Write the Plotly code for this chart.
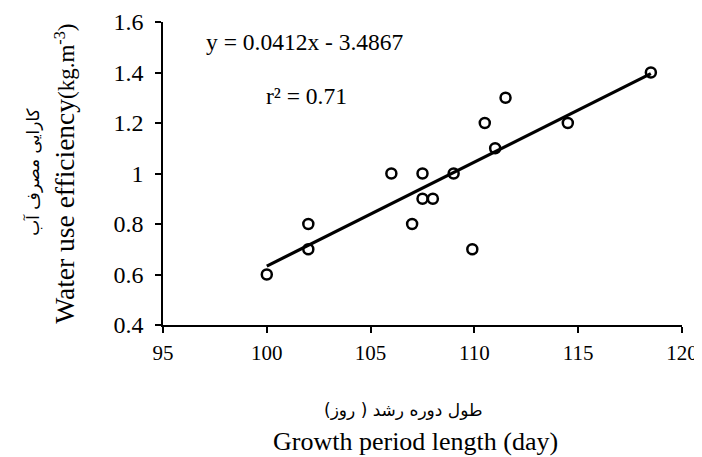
import plotly.graph_objects as go

# Data
growth_days = [100, 102, 102, 106, 107, 107.5, 107.5, 108, 109, 109.9, 110.5, 111, 111.5, 114.5, 118.5]
wue = [0.6, 0.7, 0.8, 1.0, 0.8, 0.9, 1.0, 0.9, 1.0, 0.7, 1.2, 1.1, 1.3, 1.2, 1.4]
slope = 0.0412
intercept = -3.4867
r2 = 0.71
x_ticks = [95, 100, 105, 110, 115, 120]
y_ticks = [0.4, 0.6, 0.8, 1.0, 1.2, 1.4, 1.6]
y_tick_text = ["0.4", "0.6", "0.8", "1", "1.2", "1.4", "1.6"]

trend_x = [min(growth_days), max(growth_days)]
trend_y = [slope * v + intercept for v in trend_x]

SERIF = "Liberation Serif, Times New Roman, serif"
ARABIC = "DejaVu Sans, Noto Sans, sans-serif"

# plot area in page pixels (page body has an 8px default margin)
PX0, PX1, PY0, PY1 = 162.5, 682.0, 21.7, 325.0


def px(x):
    return (x - PX0) / (PX1 - PX0)


def py(y):
    return (PY1 - y) / (PY1 - PY0)


fig = go.Figure()
fig.add_trace(go.Scatter(
    x=growth_days, y=wue, mode="markers",
    marker=dict(symbol="circle-open", size=10, color="black", line=dict(width=2.5, color="black")),
    showlegend=False, hoverinfo="x+y"))
fig.add_trace(go.Scatter(
    x=trend_x, y=trend_y, mode="lines",
    line=dict(color="black", width=3.2), showlegend=False, hoverinfo="skip"))

fig.update_layout(
    width=694, height=449,
    margin=dict(l=154.5, r=20, t=13.7, b=132),
    paper_bgcolor="white", plot_bgcolor="white",
    font=dict(family=SERIF, color="black", size=21),
    xaxis=dict(range=[95, 120], tickvals=x_ticks, showgrid=False, zeroline=False,
               automargin=False,
               showline=True, linecolor="black", linewidth=1.5,
               ticks="outside", ticklen=6, tickwidth=1.5, tickcolor="black",
               ticklabelstandoff=2, tickfont=dict(family=SERIF, size=21)),
    yaxis=dict(range=[0.4, 1.6], tickvals=y_ticks, ticktext=y_tick_text,
               showgrid=False, zeroline=False, automargin=False,
               showline=True, linecolor="black", linewidth=1.5,
               ticks="outside", ticklen=6, tickwidth=1.5, tickcolor="black",
               ticklabelstandoff=7, tickfont=dict(family=SERIF, size=24)),
    annotations=[
        dict(text="y = 0.0412x - 3.4867", x=px(305), y=py(42),
             xref="paper", yref="paper", showarrow=False, xanchor="center", yanchor="middle",
             font=dict(family=SERIF, size=23.5)),
        dict(text="r² = %.2f" % r2, x=px(306), y=py(96),
             xref="paper", yref="paper", showarrow=False, xanchor="center", yanchor="middle",
             font=dict(family=SERIF, size=23.5)),
        dict(text="طول دوره رشد ( روز)", x=px(403), y=py(410),
             xref="paper", yref="paper", showarrow=False, xanchor="center", yanchor="middle",
             font=dict(family=ARABIC, size=17)),
        dict(text="Growth period length (day)", x=px(415), y=py(442),
             xref="paper", yref="paper", showarrow=False, xanchor="center", yanchor="middle",
             font=dict(family=SERIF, size=26)),
        dict(text="کارایی مصرف آب", x=px(32), y=py(172),
             xref="paper", yref="paper", showarrow=False, xanchor="center", yanchor="middle",
             textangle=-90, font=dict(family=ARABIC, size=17)),
        dict(text="Water use efficiency<span style='font-size:23px'>(kg.m<sup>-3</sup>)</span>",
             x=px(64), y=py(174),
             xref="paper", yref="paper", showarrow=False, xanchor="center", yanchor="middle",
             textangle=-90, font=dict(family=SERIF, size=27.5)),
    ],
)

fig.write_html("out.html")
